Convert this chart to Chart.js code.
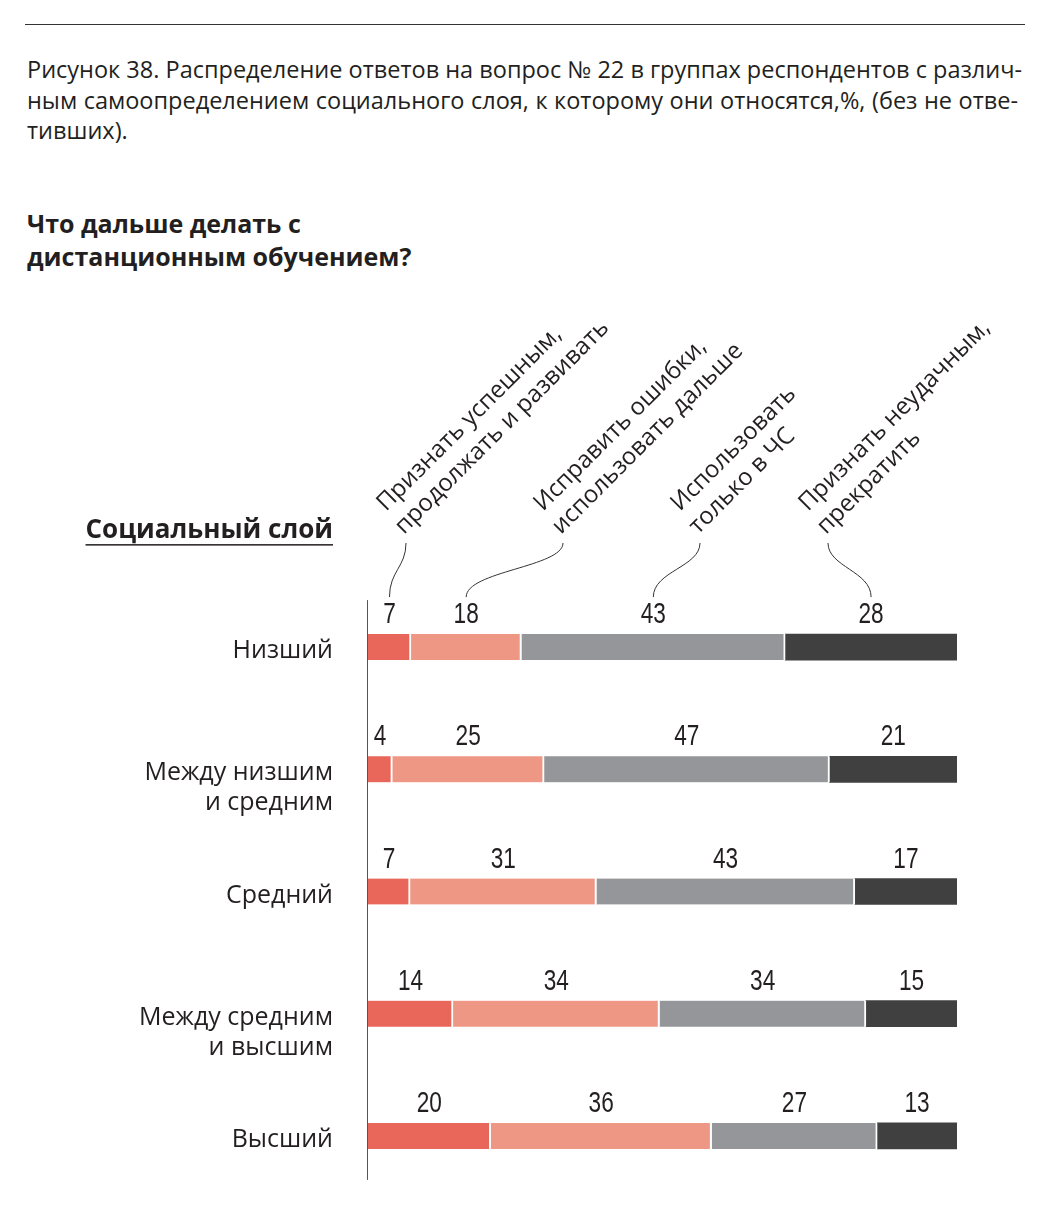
<!DOCTYPE html>
<html lang="ru">
<head>
<meta charset="utf-8">
<title>Что дальше делать с дистанционным обучением?</title>
<script src="https://cdn.jsdelivr.net/npm/chart.js@4/dist/chart.umd.min.js"></script>
<style>
  html, body { margin: 0; padding: 0; background: #fff; }
  body { width: 1052px; height: 1207px; position: relative; overflow: hidden; font-family: "Open Sans", "Noto Sans", sans-serif; color: #231f20; }
  #rule { position: absolute; left: 25px; top: 24px; width: 1000px; height: 0; border-top: 1.5px solid #333; }
  #caption { position: absolute; left: 27px; top: 54px; width: 991px; font-size: 23.5px; line-height: 30.5px; }
  #caption div { text-align: justify; text-align-last: justify; white-space: nowrap; }
  #caption div.last { text-align-last: left; }
  #subtitle { position: absolute; left: 27px; top: 207px; font-size: 25px; line-height: 33px; font-weight: 700; }
  #chart { position: absolute; left: 0; top: 0; }
</style>
</head>
<body>
<div id="rule"></div>
<div id="caption">
  <div>Рисунок 38. Распределение ответов на вопрос № 22 в группах респондентов с различ-</div>
  <div>ным самоопределением социального слоя, к которому они относятся,%, (без не отве-</div>
  <div class="last">тивших).</div>
</div>
<div id="subtitle">Что дальше делать с<br>дистанционным обучением?</div>
<canvas id="chart" width="1052" height="1207"></canvas>
<script>
const categories = [
  ["Низший"],
  ["Между низшим", "и средним"],
  ["Средний"],
  ["Между средним", "и высшим"],
  ["Высший"]
];
const answerLabels = [
  ["Признать успешным,", "продолжать и развивать"],
  ["Исправить ошибки,", "использовать дальше"],
  ["Использовать", "только в ЧС"],
  ["Признать неудачным,", "прекратить"]
];
const keepDeveloping = [7, 4, 7, 14, 20];
const fixMistakes = [18, 25, 31, 34, 36];
const onlyEmergency = [43, 47, 43, 34, 27];
const stopIt = [28, 21, 17, 15, 13];
const axisTitle = "Социальный слой";

const seriesValues = [keepDeveloping, fixMistakes, onlyEmergency, stopIt];
const seriesColors = ["#e8675a", "#ef9785", "#959699", "#404040"];

// bars fill the full width: each row is shown as share of its answered total
const rowTotals = categories.map((c, i) => seriesValues.reduce((s, arr) => s + arr[i], 0));

const textColor = "#231f20";
const labelFont = '"Open Sans", "Noto Sans", sans-serif';
const numberFont = '"Liberation Sans", Arial, sans-serif';

const datasets = seriesValues.map((arr, k) => ({
  label: answerLabels[k].join(" "),
  data: arr.map((v, i) => v / rowTotals[i] * 100),
  raw: arr,
  backgroundColor: seriesColors[k],
  borderColor: "#fff",
  borderWidth: k === seriesValues.length - 1 ? 0 : { top: 0, bottom: 0, left: 0, right: 2 },
  borderSkipped: false,
  barThickness: 26
}));

const decorPlugin = {
  id: "decor",
  afterDatasetsDraw(chart) {
    const ctx = chart.ctx;
    const yScale = chart.scales.y;
    const area = chart.chartArea;

    // vertical axis line
    ctx.save();
    ctx.strokeStyle = "#555";
    ctx.lineWidth = 1;
    ctx.beginPath();
    ctx.moveTo(area.left - 0.5, yScale.getPixelForValue(0) - 47);
    ctx.lineTo(area.left - 0.5, yScale.getPixelForValue(categories.length - 1) + 44);
    ctx.stroke();

    // numbers above segments (condensed look: squeeze horizontally)
    ctx.fillStyle = textColor;
    ctx.font = "29px " + numberFont;
    ctx.textAlign = "center";
    ctx.textBaseline = "middle";
    chart.data.datasets.forEach((ds, k) => {
      const meta = chart.getDatasetMeta(k);
      meta.data.forEach((bar, i) => {
        const cx = (bar.x + bar.base) / 2;
        ctx.save();
        ctx.translate(cx, bar.y - 32);
        ctx.scale(0.78, 1);
        ctx.fillText(String(ds.raw[i]), 0, 0);
        ctx.restore();
      });
    });

    // category labels
    ctx.font = "25px " + labelFont;
    ctx.textAlign = "right";
    categories.forEach((lines, i) => {
      const y = yScale.getPixelForValue(i);
      lines.forEach((ln, j) => ctx.fillText(ln, area.left - 35, y + 4 + j * 30));
    });

    // axis title, underlined
    ctx.font = "700 26px " + labelFont;
    ctx.textBaseline = "alphabetic";
    const tw = ctx.measureText(axisTitle).width;
    const ty = yScale.getPixelForValue(0) - 109;
    ctx.fillText(axisTitle, area.left - 35, ty);
    ctx.fillRect(area.left - 35 - tw, ty + 6, tw, 1.5);

    // rotated answer headers with leader curves to the first row
    const anchors = [386, 543, 680, 808];
    const firstRow = 0;
    ctx.font = "24px " + labelFont;
    ctx.textAlign = "left";
    answerLabels.forEach((lines, k) => {
      const ax = anchors[k], ay = 512;
      ctx.save();
      ctx.translate(ax, ay);
      ctx.rotate(-Math.PI / 4);
      lines.forEach((ln, j) => ctx.fillText(ln, -3.5 * j, 29 * j));
      ctx.restore();

      const bar = chart.getDatasetMeta(k).data[firstRow];
      const ex = (bar.x + bar.base) / 2;
      const sx = ax + 20, sy = 543, ey = bar.y - 50;
      ctx.strokeStyle = "#333";
      ctx.lineWidth = 1;
      ctx.beginPath();
      ctx.moveTo(sx, sy);
      ctx.bezierCurveTo(sx, sy + 24, ex, ey - 26, ex, ey);
      ctx.stroke();
    });
    ctx.restore();
  }
};

new Chart(document.getElementById("chart"), {
  type: "bar",
  data: {
    labels: categories,
    datasets: datasets
  },
  options: {
    indexAxis: "y",
    responsive: false,
    animation: false,
    layout: { padding: { left: 368, right: 95, top: 586, bottom: 10 } },
    plugins: {
      legend: { display: false },
      tooltip: { enabled: false }
    },
    scales: {
      x: { stacked: true, min: 0, max: 100, display: false },
      y: { stacked: true, display: false, offset: true }
    }
  },
  plugins: [decorPlugin]
});
</script>
</body>
</html>
